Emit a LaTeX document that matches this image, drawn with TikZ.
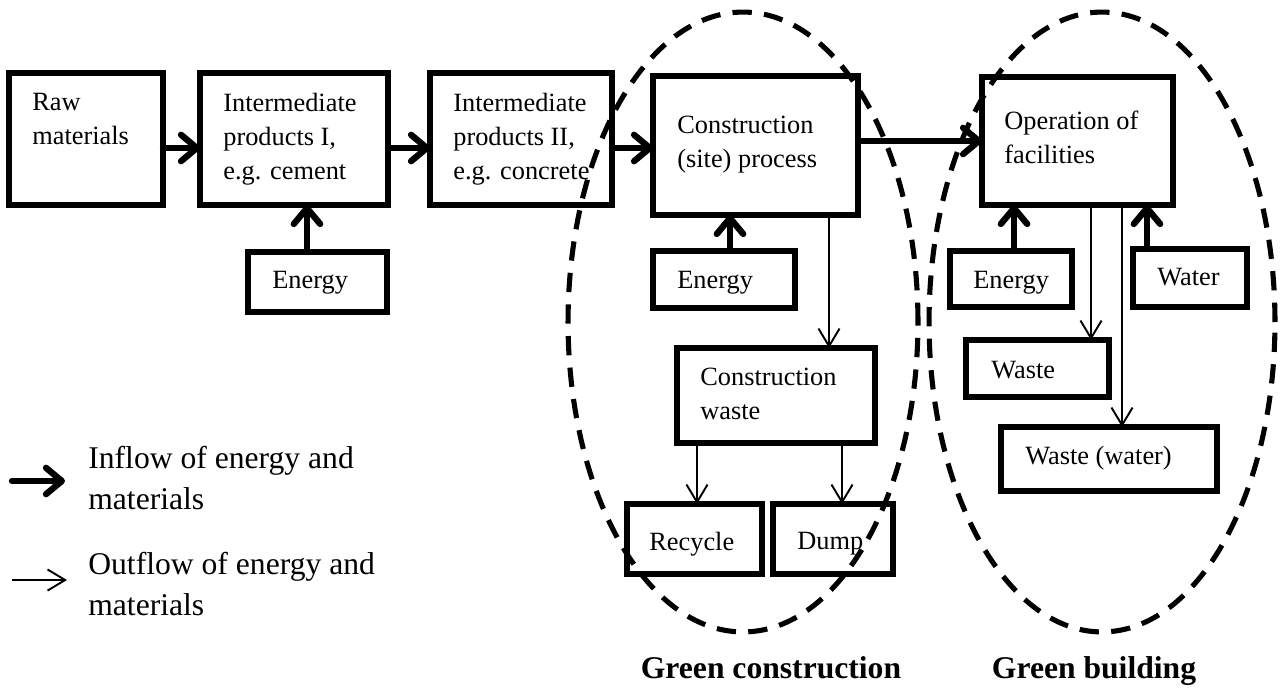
\documentclass[tikz,border=0pt]{standalone}
\usepackage{fontspec}
\setmainfont{Liberation Serif}
\usetikzlibrary{arrows.meta,shapes.geometric}
\begin{document}
\begin{tikzpicture}[x=0.02cm,y=-0.02cm,
  box/.style={draw, line width=3.1pt, inner sep=0pt, outer sep=0pt},
  lbl/.style={inner sep=0pt, anchor=north west, align=left, font=\fontsize{15}{19.4}\selectfont},
  legtext/.style={inner sep=0pt, anchor=north west, align=left, font=\fontsize{18}{23.5}\selectfont},
  zonelabel/.style={inner sep=0pt, anchor=north, font=\bfseries\fontsize{18}{22}\selectfont},
  inarrow/.style={line width=3.6pt, line cap=round, -{Straight Barb[length=9pt,width=15pt,round]}},
  outarrow/.style={line width=1.1pt, -{Straight Barb[length=10pt,width=12pt]}},
  zone/.style={draw, ellipse, line width=2.9pt, dash pattern=on 11pt off 7pt, inner sep=0pt, outer sep=0pt}
]
\useasboundingbox (0,0) rectangle (1280,689);

% dashed zones
\node[zone, minimum width=7cm, minimum height=12.4cm] (gc) at (743,322) {};
\node[zone, minimum width=6.92cm, minimum height=12.4cm] (gb) at (1102,322) {};

% boxes
\node[box, minimum width=3.08cm, minimum height=2.64cm] (raw) at (86,139) {};
\node[box, minimum width=3.76cm, minimum height=2.64cm] (int1) at (294,139) {};
\node[box, minimum width=3.64cm, minimum height=2.64cm] (int2) at (521,139) {};
\node[box, minimum width=4.10cm, minimum height=2.78cm] (cons) at (755.5,145.5) {};
\node[box, minimum width=3.82cm, minimum height=2.56cm] (ops) at (1077.5,141) {};
\node[box, minimum width=2.78cm, minimum height=1.20cm] (e1) at (317.5,282) {};
\node[box, minimum width=2.84cm, minimum height=1.14cm] (e2) at (724,279.5) {};
\node[box, minimum width=3.96cm, minimum height=1.90cm] (cwaste) at (776,395.5) {};
\node[box, minimum width=2.70cm, minimum height=1.40cm] (recycle) at (694.5,539) {};
\node[box, minimum width=2.40cm, minimum height=1.40cm] (dump) at (833,539) {};
\node[box, minimum width=2.44cm, minimum height=1.12cm] (e3) at (1011,279) {};
\node[box, minimum width=2.28cm, minimum height=1.16cm] (water) at (1190,278) {};
\node[box, minimum width=2.86cm, minimum height=1.14cm] (waste) at (1037.5,368.5) {};
\node[box, minimum width=4.32cm, minimum height=1.28cm] (wwater) at (1109,459) {};

% texts
\node[lbl] (traw) at (32,93) {Raw\\materials};
\node[lbl] (tint1) at (223,93) {Intermediate\\products I,\\e.g. cement};
\node[lbl] (tint2) at (453,93) {Intermediate\\products II,\\e.g. concrete};
\node[lbl] (tcons) at (677,116) {Construction\\(site) process};
\node[lbl] (tops) at (1004,111) {Operation of\\facilities};
\node[lbl] (te1) at (272,271) {Energy};
\node[lbl] (te2) at (677,271) {Energy};
\node[lbl] (tcw) at (700,368) {Construction\\waste};
\node[lbl] (trec) at (649,532) {Recycle};
\node[lbl] (tdump) at (797,532) {Dump};
\node[lbl] (te3) at (973,271) {Energy};
\node[lbl] (twater) at (1157,268) {Water};
\node[lbl] (twaste) at (991,361) {Waste};
\node[lbl] (tww) at (1025,446) {Waste (water)};

% helper coordinates
\coordinate (y148) at (0,148);
\coordinate (y141) at (0,141);
\coordinate (x307) at (307,0);
\coordinate (x730) at (730,0);
\coordinate (x829) at (829,0);
\coordinate (x697) at (697,0);
\coordinate (x842) at (842,0);
\coordinate (x1014) at (1014,0);
\coordinate (x1147) at (1147,0);
\coordinate (x1091) at (1091,0);
\coordinate (x1122) at (1122,0);

% inflow arrows
\draw[inarrow] (raw.east |- y148) -- (int1.west |- y148);
\draw[inarrow] (int1.east |- y148) -- (int2.west |- y148);
\draw[inarrow] (int2.east |- y148) -- (cons.west |- y148);
\draw[inarrow] (cons.east |- y141) -- (ops.west |- y141);
\draw[inarrow] (e1.north -| x307) -- (int1.south -| x307);
\draw[inarrow] (e2.north -| x730) -- (cons.south -| x730);
\draw[inarrow] (e3.north -| x1014) -- (ops.south -| x1014);
\draw[inarrow] (water.north -| x1147) -- (ops.south -| x1147);

% outflow arrows
\draw[outarrow] (cons.south -| x829) -- (cwaste.north -| x829);
\draw[outarrow] (cwaste.south -| x697) -- (recycle.north -| x697);
\draw[outarrow] (cwaste.south -| x842) -- (dump.north -| x842);
\draw[outarrow] (ops.south -| x1091) -- (waste.north -| x1091);
\draw[outarrow] (ops.south -| x1122) -- (wwater.north -| x1122);

% legend
\coordinate (l1a) at (12,481);
\coordinate (l1b) at (65,481);
\coordinate (l2a) at (12,580);
\coordinate (l2b) at (67,580);
\draw[inarrow] (l1a) -- (l1b);
\draw[outarrow] (l2a) -- (l2b);
\node[legtext] (leg1) at (88,446) {Inflow of energy and\\materials};
\node[legtext] (leg2) at (88,552) {Outflow of energy and\\materials};

% zone labels
\node[zonelabel] (lgc) at (771,656) {Green construction};
\node[zonelabel] (lgb) at (1094,656) {Green building};
\end{tikzpicture}
\end{document}
